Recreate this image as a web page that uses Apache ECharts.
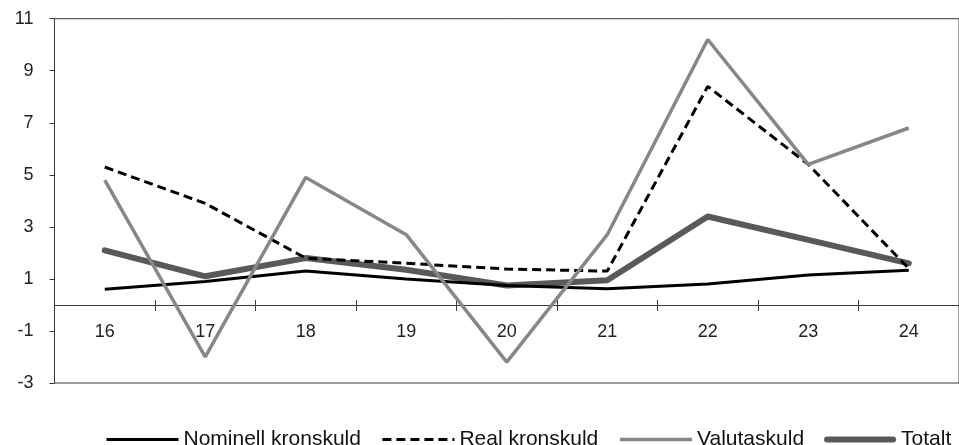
<!DOCTYPE html>
<html>
<head>
<meta charset="utf-8">
<script src="https://cdn.jsdelivr.net/npm/echarts@6/dist/echarts.min.js"></script>
<style>html,body{margin:0;padding:0;background:#fff}#c{width:959px;height:445px}</style>
</head>
<body>
<div id="c"></div>
<script>
const categories = ['16','17','18','19','20','21','22','23','24'];
const nominell = [0.6, 0.9, 1.3, 1.0, 0.75, 0.62, 0.8, 1.15, 1.33];
const real = [5.3, 3.9, 1.8, 1.6, 1.38, 1.3, 8.4, 5.4, 1.4];
const valuta = [4.8, -2.0, 4.9, 2.7, -2.2, 2.7, 10.2, 5.4, 6.8];
const totalt = [2.1, 1.1, 1.8, 1.35, 0.75, 0.95, 3.4, 2.5, 1.6];
const seriesNames = ['Nominell kronskuld', 'Real kronskuld', 'Valutaskuld', 'Totalt'];
const yMin = -3, yMax = 11, yStep = 2;

const chart = echarts.init(document.getElementById('c'), null, {renderer: 'canvas'});
const font = 'Arial, "Liberation Sans", sans-serif';
const axisColor = '#3a3a3a';
const gridBox = {left: 54.5, top: 18.7, width: 909, height: 364.3};
const zeroOffset = -gridBox.height * (0 - yMin) / (yMax - yMin);
const styles = [
  {color: '#000', width: 3, type: 'solid'},
  {color: '#000', width: 3, type: [9, 5]},
  {color: '#878787', width: 3.5, type: 'solid'},
  {color: '#595959', width: 6, type: 'solid'}
];
const legendData = seriesNames.map((n, i) => {
  if (i === 3) {
    return {name: n, icon: 'path://M3,0 H69 A3,3 0 0 1 69,6 H3 A3,3 0 0 1 3,0 Z',
            itemStyle: {opacity: 1, color: styles[3].color, borderWidth: 0}};
  }
  return {name: n, lineStyle: {width: styles[i].width, color: styles[i].color, type: styles[i].type}};
});
chart.setOption({
  animation: false,
  backgroundColor: '#fff',
  textStyle: {fontFamily: font},
  grid: [
    Object.assign({show: true, borderColor: axisColor, borderWidth: 1, containLabel: false}, gridBox),
    Object.assign({show: false, containLabel: false}, gridBox)
  ],
  legend: {
    left: 100, top: 424, width: 900,
    itemWidth: 72, itemHeight: 14, itemGap: 20,
    itemStyle: {opacity: 0, borderWidth: 0},
    textStyle: {fontFamily: font, fontSize: 21, color: '#111', padding: [0,0,0,0]},
    data: legendData
  },
  xAxis: [{
    gridIndex: 0, type: 'category', data: categories, boundaryGap: true,
    position: 'bottom', offset: zeroOffset,
    axisLine: {onZero: false, lineStyle: {color: axisColor, width: 1}},
    axisTick: {show: true, inside: false, length: 6, lineStyle: {color: axisColor}},
    axisLabel: {fontSize: 18, color: '#222', margin: 18, fontFamily: font},
    splitLine: {show: false}
  }, {
    gridIndex: 1, type: 'category', data: categories, boundaryGap: true,
    axisLine: {onZero: true, lineStyle: {color: axisColor, width: 1}},
    axisTick: {show: true, inside: true, length: 5, lineStyle: {color: axisColor}},
    axisLabel: {show: false},
    splitLine: {show: false}
  }],
  yAxis: [{
    gridIndex: 0, type: 'value', min: yMin, max: yMax, interval: yStep,
    axisLine: {show: true, lineStyle: {color: axisColor}},
    axisTick: {show: true, inside: false, length: 5, lineStyle: {color: axisColor}},
    axisLabel: {fontSize: 18, color: '#222', margin: 21, fontFamily: font},
    splitLine: {show: false}
  }, {
    gridIndex: 1, type: 'value', min: yMin, max: yMax, interval: yStep,
    axisLine: {show: false}, axisTick: {show: false}, axisLabel: {show: false},
    splitLine: {show: false}
  }],
  series: [
    {name: seriesNames[0], type: 'line', data: nominell, symbol: 'none', z: 3,
     lineStyle: styles[0], itemStyle: {color: styles[0].color}},
    {name: seriesNames[1], type: 'line', data: real, symbol: 'none', z: 4,
     lineStyle: styles[1], itemStyle: {color: styles[1].color}},
    {name: seriesNames[2], type: 'line', data: valuta, symbol: 'none', z: 5,
     lineStyle: styles[2], itemStyle: {color: styles[2].color}},
    {name: seriesNames[3], type: 'line', data: totalt, symbol: 'none', z: 2, symbolKeepAspect: true,
     lineStyle: Object.assign({cap: 'round', join: 'round'}, styles[3]), itemStyle: {color: styles[3].color}}
  ]
});
</script>
</body>
</html>
